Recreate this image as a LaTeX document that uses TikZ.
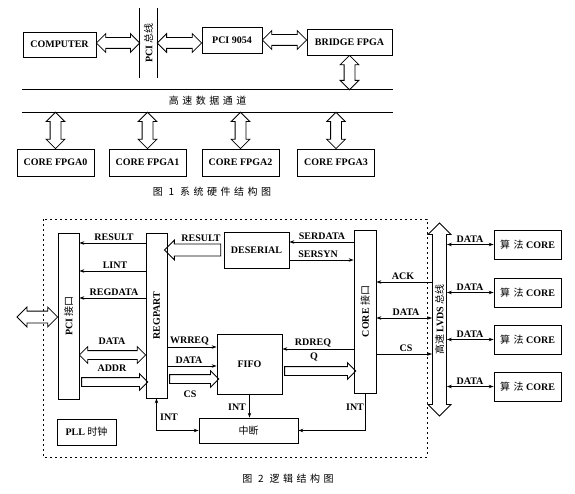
\documentclass[tikz,border=0pt]{standalone}
\usepackage{fontspec}
\usepackage{graphicx}
\setmainfont{Liberation Serif}
\newfontfamily\cjk{Noto Sans CJK SC}
\newfontfamily\cjksp[LetterSpace=35]{Noto Sans CJK SC}
\usetikzlibrary{arrows.meta,calc,shapes.arrows}
\newcommand{\zh}[1]{{\mdseries\cjk #1}}

\begin{document}
\begin{tikzpicture}
  [x=1pt, y=-1pt, font=\bfseries\fontsize{10}{12}\selectfont,
   box/.style={draw, line width=.8pt, inner sep=0pt},
   lbl/.style={anchor=south, inner sep=2pt},
   sig/.style={line width=.7pt, -{Stealth[length=5pt,width=3.5pt]}},
   sigb/.style={line width=.7pt, {Stealth[length=5pt,width=3.5pt]}-{Stealth[length=5pt,width=3.5pt]}},
   dashbox/.style={line width=.9pt, dash pattern=on 2pt off 3pt},
   hol/.style 2 args={to path={
     let \p1=(\tikztostart), \p2=(\tikztotarget),
         \n1={veclen(\x2-\x1,\y2-\y1)}, \n2={atan2(\y2-\y1,\x2-\x1)} in
     node[#1, draw, line width=.8pt, inner xsep=0pt, inner ysep=#2, minimum height=\n1,
          #1 head extend=4pt, rotate=\n2]
       at ($(\p1)!.5!(\p2)$) {}}}]

  \useasboundingbox (0,0) rectangle (575,494);

  % 图1 系统硬件结构
  \node[box, minimum width=73, minimum height=25] (comp) at (59.5,44.5) {COMPUTER};
  \node[minimum width=17, minimum height=70, inner sep=0pt] (pcibus) at (148.5,43)
    {\rotatebox{90}{PCI \zh{总线}}};
  \draw[line width=.8pt] (pcibus.north west) -- (pcibus.south west)
                         (pcibus.north east) -- (pcibus.south east);
  \node[box, minimum width=60, minimum height=26] (plx) at (232,40) {PCI 9054};
  \node[box, minimum width=85, minimum height=26] (bridge) at (349.5,42) {BRIDGE FPGA};
  \node[minimum width=371, minimum height=22, inner sep=0pt] (chan) at (207.5,101)
    {\mdseries\cjksp 高速数据通道};
  \draw[line width=.8pt] (chan.north west) -- (chan.north east)
                         (chan.south west) -- (chan.south east);

  \path[hol={double arrow}{5pt}] (comp.east |- pcibus) to (pcibus.west);
  \path[hol={double arrow}{5pt}] (pcibus.east) to (plx.west |- pcibus);
  \path[hol={double arrow}{5pt}] (plx.east) to (bridge.west |- plx.east);
  \path[hol={double arrow}{5pt}] (bridge.south) to (chan.north -| bridge.south);

  \foreach \i/\cx in {0/55.5, 1/147.5, 2/240.5, 3/336} {
    \node[box, minimum width=77, minimum height=27] (core\i) at (\cx,162.5) {CORE FPGA\i};
    \path[hol={double arrow}{5pt}] (chan.south -| core\i) to (core\i.north);
  }
  \node[font=\cjksp\fontsize{10}{12}\selectfont] (cap1) at (212,192) {图 1 系统硬件结构图};

  % 图2 逻辑结构
  \draw[dashbox] (43,219) rectangle (427,457);
  \node[box, minimum width=21, minimum height=166] (pcii) at (68.5,316)
    {\rotatebox{90}{PCI \zh{接口}}};
  \node[box, minimum width=21, minimum height=165] (regp) at (156.5,315.5)
    {\rotatebox{90}{REGPART}};
  \node[box, minimum width=65, minimum height=36] (deser) at (256.5,250) {DESERIAL};
  \node[box, minimum width=22, minimum height=163] (corei) at (365,311.5)
    {\rotatebox{90}{CORE \zh{接口}}};
  \node[box, minimum width=65, minimum height=60] (fifo) at (249.5,364) {FIFO};
  \node[box, minimum width=99, minimum height=25] (zd) at (248.5,430.5) {\zh{中断}};
  \node[box, minimum width=59, minimum height=26] (pll) at (86.5,432) {PLL \zh{时钟}};
  \node[double arrow, draw, line width=.8pt, rotate=90, minimum height=193,
        double arrow head extend=4.5pt, inner xsep=0pt, inner ysep=2pt]
    (lvds) at (439.5,319.5) {\zh{高速} LVDS \zh{总线}};
  \foreach \i/\cy in {1/244.5, 2/292.5, 3/339.5, 4/386.5} {
    \node[box, minimum width=67, minimum height=29] (alg\i) at (527.5,\cy)
      {{\mdseries\cjksp 算法} CORE};
    \node[lbl] (ldr\i) at (470,\cy) {DATA};
    \draw[sigb] (lvds.south |- alg\i) -- (alg\i.west);
  }

  % PCI接口 <-> REGPART
  \coordinate (ext) at (17,317);
  \path[hol={double arrow}{5.5pt}] (ext) to (pcii.west |- ext);
  \node[lbl] (lres) at (114,243) {RESULT};
  \draw[sig] (regp.west |- lres.south) -- (pcii.east |- lres.south);
  \node[lbl] (llint) at (115,271) {LINT};
  \draw[sig] (regp.west |- llint.south) -- (pcii.east |- llint.south);
  \node[lbl] (lreg) at (114,298) {REGDATA};
  \draw[sig] (regp.west |- lreg.south) -- (pcii.east |- lreg.south);
  \coordinate (hdata) at (112,355);
  \node[lbl] (ldata) at (112,347) {DATA};
  \path[hol={double arrow}{4pt}] (pcii.east |- hdata) to (regp.west |- hdata);
  \coordinate (haddr) at (112,382);
  \node[lbl] (laddr) at (112,374) {ADDR};
  \path[hol={single arrow}{4pt}] (pcii.east |- haddr) to (regp.west |- haddr);

  % DESERIAL
  \node[lbl] (lres2) at (201,244) {RESULT};
  \path[hol={single arrow}{5.5pt}] (deser.west) to (regp.east |- deser.west);
  \node[lbl] (lser) at (322,242) {SERDATA};
  \draw[sig] (corei.west |- lser.south) -- (deser.east |- lser.south);
  \node[lbl] (lsyn) at (318,260) {SERSYN};
  \draw[sig] (deser.east |- lsyn.south) -- (corei.west |- lsyn.south);

  % CORE接口 <-> LVDS
  \node[lbl] (lack) at (403,282) {ACK};
  \draw[sig] (lvds.north |- lack.south) -- (corei.east |- lack.south);
  \node[lbl] (ldc) at (406,318) {DATA};
  \draw[sigb] (corei.east |- ldc.south) -- (lvds.north |- ldc.south);
  \node[lbl] (lcs) at (406,354) {CS};
  \draw[sig] (corei.east |- lcs.south) -- (lvds.north |- lcs.south);

  % FIFO
  \node[lbl] (lwr) at (189.5,347) {WRREQ};
  \draw[sig] (regp.east |- lwr.south) -- (fifo.west |- lwr.south);
  \node[lbl] (ldf) at (189,366) {DATA};
  \draw[sig] (regp.east |- ldf.south) -- (fifo.west |- ldf.south);
  \node (lcsf) at (190,394) {CS};
  \coordinate (hcs) at (190,379);
  \path[hol={single arrow}{4pt}] (regp.east |- hcs) to (fifo.west |- hcs);
  \node[lbl] (lrd) at (313,349) {RDREQ};
  \draw[sig] (corei.west |- lrd.south) -- (fifo.east |- lrd.south);
  \coordinate (hq) at (314,371);
  \node[lbl] (lq) at (314,363) {Q};
  \path[hol={single arrow}{4pt}] (fifo.east |- hq) to (corei.west |- hq);

  % 中断
  \draw[sig] (fifo.south) -- (zd.north -| fifo.south);
  \node (lint1) at (237,407) {INT};
  \draw[sigb] (regp.south) |- (zd.west);
  \node (lint2) at (169,417) {INT};
  \draw[sig] (corei.south) |- (zd.east);
  \node (lint3) at (355,407) {INT};

  \node[font=\cjksp\fontsize{10}{12}\selectfont] (cap2) at (288,479) {图 2 逻辑结构图};
\end{tikzpicture}
\end{document}
